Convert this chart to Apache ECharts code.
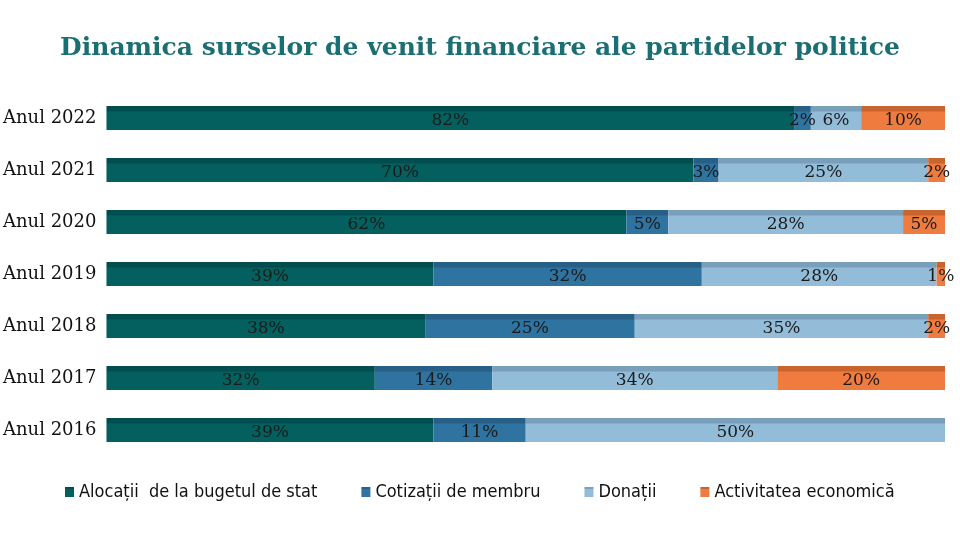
<!DOCTYPE html>
<html>
<head>
<meta charset="utf-8">
<script src="https://cdn.jsdelivr.net/npm/echarts@6/dist/echarts.min.js"></script>
<style>
  html, body { margin: 0; padding: 0; background: #fff; }
  #chart { width: 960px; height: 540px; }
</style>
</head>
<body>
<div id="chart"></div>
<script>
const years = ["Anul 2022", "Anul 2021", "Anul 2020", "Anul 2019", "Anul 2018", "Anul 2017", "Anul 2016"];
const alocatii = [82, 70, 62, 39, 38, 32, 39];
const cotizatii = [2, 3, 5, 32, 25, 14, 11];
const donatii = [6, 25, 28, 28, 35, 34, 50];
const activitate = [10, 2, 5, 1, 2, 20, 0];

const seriesNames = ["Alocații  de la bugetul de stat", "Cotizații de membru", "Donații", "Activitatea economică"];
const colors = ["#03605f", "#2f73a0", "#93bcd8", "#f07b3f"];
const topColors = ["#024e4e", "#285f86", "#7a9fba", "#c9642f"];

function makeSeries(name, data, i) {
  return {
    name: name,
    type: "bar",
    stack: "total",
    barWidth: 24,
    data: data,
    itemStyle: {
      color: {
        type: "linear", x: 0, y: 0, x2: 0, y2: 1,
        colorStops: [
          { offset: 0, color: topColors[i] },
          { offset: 0.22, color: topColors[i] },
          { offset: 0.24, color: colors[i] },
          { offset: 1, color: colors[i] }
        ]
      }
    },
    label: {
      show: true,
      position: "inside",
      offset: [0, 3],
      formatter: (p) => (p.value > 0 ? p.value + "%" : ""),
      color: "#1b1b1b",
      fontFamily: "DejaVu Serif",
      fontSize: 17
    }
  };
}

const chart = echarts.init(document.getElementById("chart"));
chart.setOption({
  animation: false,
  title: {
    text: "Dinamica surselor de venit financiare ale partidelor politice",
    left: "center",
    top: 31,
    textStyle: {
      color: "#1b6e72",
      fontFamily: "DejaVu Serif",
      fontWeight: "bold",
      fontSize: 25
    }
  },
  legend: {
    bottom: 34,
    left: 60,
    itemWidth: 9,
    itemHeight: 10,
    itemGap: 44,
    icon: "rect",
    textStyle: {
      fontFamily: "Liberation Sans Narrow, DejaVu Sans Condensed, sans-serif",
      fontSize: 18,
      color: "#111"
    },
    data: seriesNames
  },
  grid: { left: 106, right: 15, top: 92, bottom: 84 },
  xAxis: {
    type: "value",
    min: 0,
    max: 100,
    show: false
  },
  yAxis: {
    type: "category",
    data: years,
    inverse: true,
    axisLine: { show: false },
    axisTick: { show: false },
    axisLabel: {
      margin: 10,
      color: "#111",
      fontFamily: "DejaVu Serif",
      fontSize: 18
    }
  },
  series: [
    makeSeries(seriesNames[0], alocatii, 0),
    makeSeries(seriesNames[1], cotizatii, 1),
    makeSeries(seriesNames[2], donatii, 2),
    makeSeries(seriesNames[3], activitate, 3)
  ]
});
</script>
</body>
</html>
